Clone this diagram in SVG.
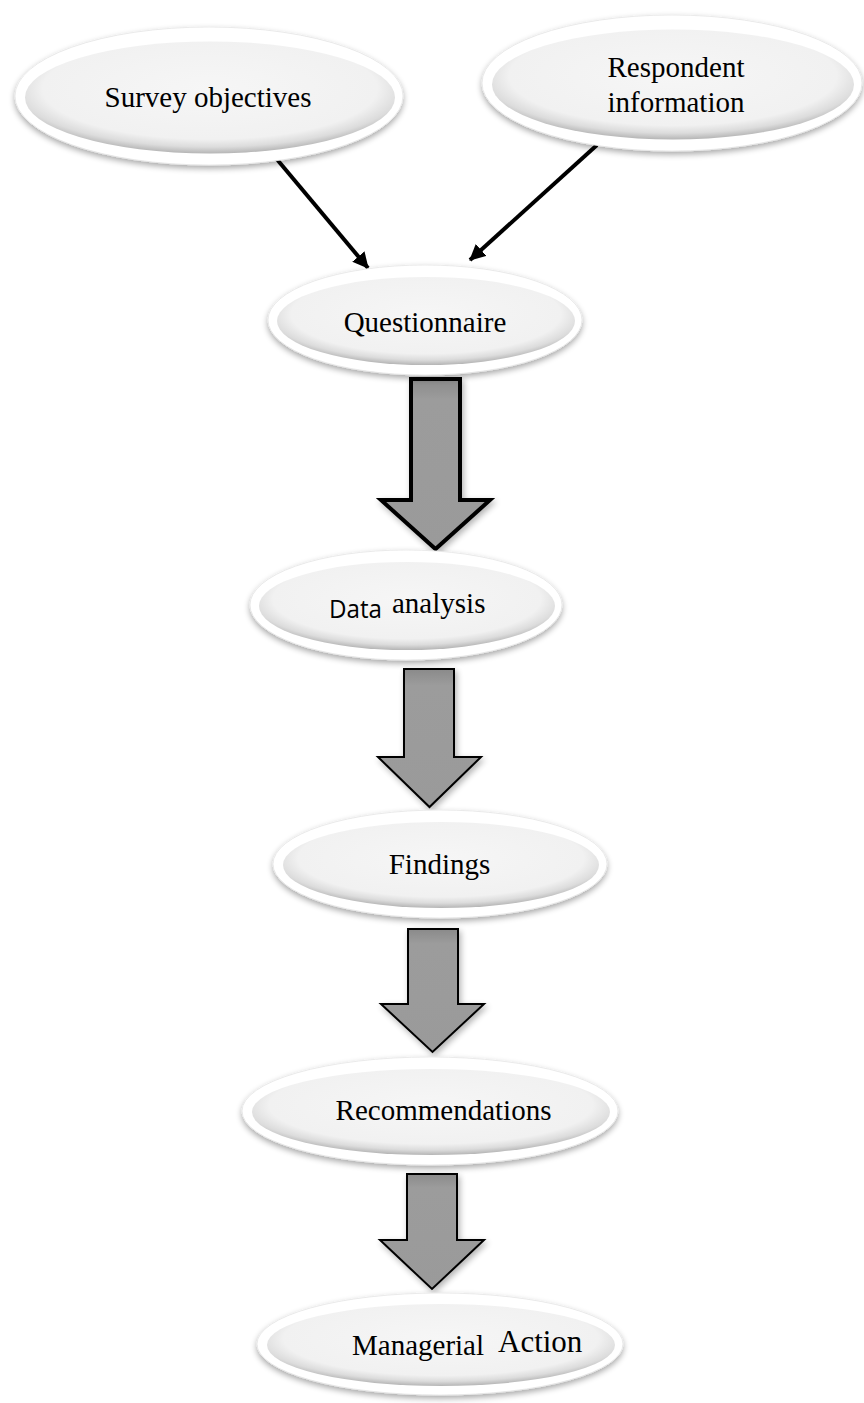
<svg xmlns="http://www.w3.org/2000/svg" width="864" height="1403" viewBox="0 0 864 1403">
  <defs>
    <style>
      .rim { fill: #ffffff; stroke: #e6e6e6; stroke-width: 0.8; filter: url(#shadow); }
      .face { fill: url(#faceGrad); }
      .lbl { font-family: "Liberation Serif", "Times New Roman", serif; font-size: 29px; fill: #000000; }
      .sans { font-family: "Open Sans", "Noto Sans", "Liberation Sans", sans-serif; font-size: 26px; fill: #000000; }
      .conn { stroke: #000000; stroke-width: 4; fill: none; marker-end: url(#head); }
      .block { fill: url(#arrowGrad); stroke: #000000; stroke-linejoin: miter; filter: url(#ashadow); }
    </style>
    <radialGradient id="faceGrad" cx="50%" cy="42%" r="58%">
      <stop offset="0" stop-color="#f6f6f6"/>
      <stop offset="0.78" stop-color="#f1f1f1"/>
      <stop offset="0.9" stop-color="#dcdcdc"/>
      <stop offset="1" stop-color="#b5b5b5"/>
    </radialGradient>
    <linearGradient id="arrowGrad" x1="0" y1="0" x2="0" y2="1">
      <stop offset="0" stop-color="#8a8a8a"/>
      <stop offset="0.12" stop-color="#9c9c9c"/>
      <stop offset="1" stop-color="#9a9a9a"/>
    </linearGradient>
    <filter id="shadow" x="-10%" y="-15%" width="120%" height="140%">
      <feGaussianBlur in="SourceAlpha" stdDeviation="3"/>
      <feOffset dx="0" dy="3" result="b"/>
      <feComponentTransfer><feFuncA type="linear" slope="0.35"/></feComponentTransfer>
      <feMerge><feMergeNode/><feMergeNode in="SourceGraphic"/></feMerge>
    </filter>
    <filter id="ashadow" x="-20%" y="-10%" width="140%" height="130%">
      <feGaussianBlur in="SourceAlpha" stdDeviation="3"/>
      <feOffset dx="2" dy="3" result="b"/>
      <feComponentTransfer><feFuncA type="linear" slope="0.3"/></feComponentTransfer>
      <feMerge><feMergeNode/><feMergeNode in="SourceGraphic"/></feMerge>
    </filter>
    <marker id="head" markerWidth="18" markerHeight="16" refX="15" refY="8" orient="auto" markerUnits="userSpaceOnUse">
      <path d="M0,0 L16,8 L0,16 Z" fill="#000000"/>
    </marker>
  </defs>
  <rect width="864" height="1403" fill="#ffffff"/>

  <g id="connectors">
    <line class="conn" x1="275" y1="157" x2="368" y2="268"/>
    <line class="conn" x1="597" y1="145" x2="470" y2="260"/>
    <path class="block" stroke-width="4" d="M411,379 H460 V500 H490 L435.5,549 L381,500 H411 Z"/>
    <path class="block" stroke-width="2" d="M404,669 H454 V757 H481 L429.5,807 L378,757 H404 Z"/>
    <path class="block" stroke-width="2" d="M408,929 H458 V1004 H484 L432.5,1052 L381,1004 H408 Z"/>
    <path class="block" stroke-width="2" d="M407,1174 H457 V1240 H484 L432,1289 L380,1240 H407 Z"/>
  </g>

  <g id="survey-objectives">
    <ellipse class="rim" cx="209" cy="96" rx="194" ry="69"/>
    <ellipse class="face" cx="210" cy="97.5" rx="185" ry="56"/>
    <text class="lbl" x="208" y="107" text-anchor="middle">Survey objectives</text>
  </g>

  <g id="respondent-information">
    <ellipse class="rim" cx="672" cy="83" rx="190" ry="68"/>
    <ellipse class="face" cx="673" cy="84.5" rx="181" ry="55"/>
    <text class="lbl" x="676" y="77" text-anchor="middle">Respondent</text>
    <text class="lbl" x="676" y="112" text-anchor="middle">information</text>
  </g>

  <g id="questionnaire">
    <ellipse class="rim" cx="425" cy="320" rx="157" ry="55"/>
    <ellipse class="face" cx="426" cy="321" rx="149" ry="44"/>
    <text class="lbl" x="425" y="332" text-anchor="middle">Questionnaire</text>
  </g>

  <g id="data-analysis">
    <ellipse class="rim" cx="406" cy="605" rx="156" ry="55"/>
    <ellipse class="face" cx="407" cy="606" rx="148" ry="44"/>
    <text class="sans" x="329" y="618" textLength="53" lengthAdjust="spacingAndGlyphs">Data</text>
    <text class="lbl" x="392" y="613">analysis</text>
  </g>

  <g id="findings">
    <ellipse class="rim" cx="440" cy="864" rx="167" ry="54"/>
    <ellipse class="face" cx="441" cy="865" rx="158" ry="43"/>
    <text class="lbl" x="439.5" y="874" text-anchor="middle">Findings</text>
  </g>

  <g id="recommendations">
    <ellipse class="rim" cx="430" cy="1111" rx="188" ry="54"/>
    <ellipse class="face" cx="431" cy="1112" rx="179" ry="43"/>
    <text class="lbl" x="443.5" y="1120" text-anchor="middle">Recommendations</text>
  </g>

  <g id="managerial-action">
    <ellipse class="rim" cx="440" cy="1344" rx="183" ry="51"/>
    <ellipse class="face" cx="441" cy="1345" rx="174" ry="41"/>
    <text class="lbl" x="352" y="1355">Managerial</text>
    <text class="lbl" x="498" y="1352" style="font-size:31px">Action</text>
  </g>
</svg>
